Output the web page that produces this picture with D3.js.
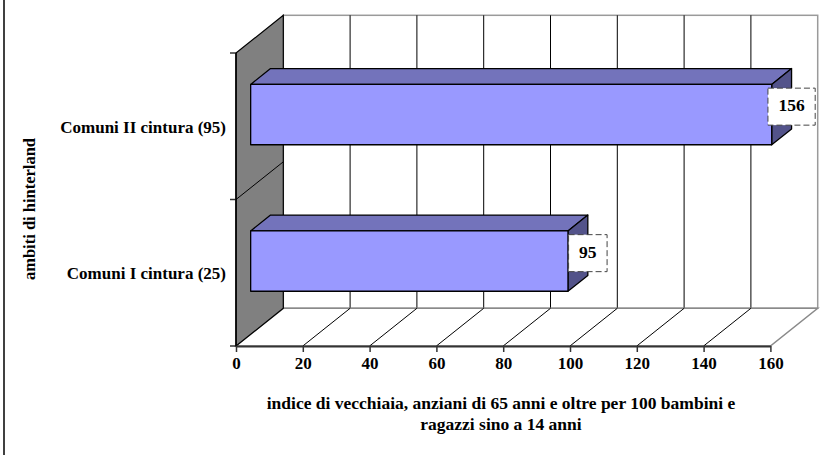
<!DOCTYPE html>
<html>
<head>
<meta charset="utf-8">
<script src="https://cdn.jsdelivr.net/npm/d3@7"></script>
<style>
  html, body { margin: 0; padding: 0; background: #fff; }
  svg { display: block; }
  text { font-family: "Liberation Serif", "Times New Roman", serif; font-weight: bold; fill: #000; }
</style>
</head>
<body>
<svg id="chart" width="825" height="455"></svg>
<script>
// Aging index by hinterland ring
const categories = ["Comuni II cintura (95)", "Comuni I cintura (25)"];
const values = [156, 95];
const xTicks = [0, 20, 40, 60, 80, 100, 120, 140, 160];
const xTitle = ["indice di vecchiaia, anziani di 65 anni e oltre per 100 bambini e", "ragazzi sino a 14 anni"];
const yTitle = "ambiti di hinterland";

const svg = d3.select("#chart");

// front plane of the 3D box and its depth offset
const front = { left: 236, right: 770.4, top: 53, bottom: 346 };
const depth = { dx: 47.3, dy: -37.7 };
const barFront = 0.31, barBack = 0.73; // bar slab position along the depth axis

const x = d3.scaleLinear().domain([0, 160]).range([front.left, front.right]);
const y = d3.scaleBand().domain(categories).range([front.top, front.bottom])
  .paddingInner(0.588).paddingOuter(0.294);

const proj = (px, py, f) => [px + f * depth.dx, py + f * depth.dy];
const poly = pts => "M" + pts.map(p => p.join(",")).join("L") + "Z";

// frame line on the left edge
svg.append("line").attr("x1", 4).attr("x2", 4).attr("y1", 0).attr("y2", 455)
  .attr("stroke", "#000").attr("stroke-width", 1.5);

// back wall
const bw0 = proj(front.left, front.top, 1), bw1 = proj(front.right, front.bottom, 1);
svg.append("rect").attr("x", bw0[0]).attr("y", bw0[1])
  .attr("width", bw1[0] - bw0[0]).attr("height", bw1[1] - bw0[1])
  .attr("fill", "#fff").attr("stroke", "#9a9a9a").attr("stroke-width", 1.5);

// back wall gridlines
svg.append("g").selectAll("line").data(xTicks.slice(1, -1)).join("line")
  .attr("x1", d => proj(x(d), 0, 1)[0]).attr("x2", d => proj(x(d), 0, 1)[0])
  .attr("y1", bw0[1]).attr("y2", bw1[1])
  .attr("stroke", "#000").attr("stroke-width", 1);

// floor
svg.append("path")
  .attr("d", poly([[front.left, front.bottom], [front.right, front.bottom],
    proj(front.right, front.bottom, 1), proj(front.left, front.bottom, 1)]))
  .attr("fill", "#fff").attr("stroke", "#8a8a8a").attr("stroke-width", 1.5);

svg.append("g").selectAll("line").data(xTicks.slice(1, -1)).join("line")
  .attr("x1", d => x(d)).attr("y1", front.bottom)
  .attr("x2", d => proj(x(d), front.bottom, 1)[0]).attr("y2", d => proj(x(d), front.bottom, 1)[1])
  .attr("stroke", "#000").attr("stroke-width", 1);

// left wall
svg.append("path")
  .attr("d", poly([[front.left, front.top], proj(front.left, front.top, 1),
    proj(front.left, front.bottom, 1), [front.left, front.bottom]]))
  .attr("fill", "#808080").attr("stroke", "#000").attr("stroke-width", 1.2);

// category boundaries on the left wall
const bounds = [front.top, (y(categories[0]) + y.bandwidth() + y(categories[1])) / 2, front.bottom];
svg.append("g").selectAll("line").data(bounds.slice(1, -1)).join("line")
  .attr("x1", front.left).attr("y1", d => d)
  .attr("x2", front.left + depth.dx).attr("y2", d => d + depth.dy)
  .attr("stroke", "#000").attr("stroke-width", 1);
svg.append("g").selectAll("line").data(bounds).join("line")
  .attr("x1", front.left - 6).attr("x2", front.left).attr("y1", d => d).attr("y2", d => d)
  .attr("stroke", "#333").attr("stroke-width", 1.5);
svg.append("line").attr("x1", front.left).attr("x2", front.left)
  .attr("y1", front.top).attr("y2", front.bottom)
  .attr("stroke", "#000").attr("stroke-width", 1.5);

// x axis along the floor front edge
const xAxis = svg.append("g").attr("transform", `translate(0,${front.bottom})`)
  .call(d3.axisBottom(x).tickValues(xTicks).tickSize(6).tickSizeOuter(0).tickPadding(5));
xAxis.select(".domain").attr("stroke", "#333").attr("stroke-width", 2);
xAxis.selectAll(".tick line").attr("stroke", "#333").attr("stroke-width", 1.5);
xAxis.selectAll(".tick text").attr("font-size", 17)
  .attr("font-family", "Liberation Serif").attr("font-weight", "bold").attr("fill", "#000");

// category labels
const yAxis = svg.append("g").attr("transform", `translate(${front.left},0)`)
  .call(d3.axisLeft(y).tickSize(0).tickPadding(10));
yAxis.select(".domain").remove();
yAxis.selectAll(".tick").attr("transform", d => `translate(0,${y(d) + y.bandwidth() / 2 + 1})`);
yAxis.selectAll(".tick text").attr("font-size", 17)
  .attr("font-family", "Liberation Serif").attr("font-weight", "bold").attr("fill", "#000");

// bars: top face, end face, front face
const bars = svg.append("g").selectAll("g").data(categories.map((c, i) => ({ c, v: values[i] }))).join("g");
bars.each(function (d) {
  const g = d3.select(this);
  const y0 = y(d.c), y1 = y(d.c) + y.bandwidth();
  const x0 = x(0), x1 = x(d.v);
  const ftl = proj(x0, y0, barFront), ftr = proj(x1, y0, barFront);
  const fbl = proj(x0, y1, barFront), fbr = proj(x1, y1, barFront);
  const btl = proj(x0, y0, barBack), btr = proj(x1, y0, barBack);
  const bbr = proj(x1, y1, barBack);
  g.append("path").attr("d", poly([ftl, btl, btr, ftr])).attr("fill", "#7373bb");
  g.append("path").attr("d", poly([ftr, btr, bbr, fbr])).attr("fill", "#53538a");
  g.append("path").attr("d", poly([ftl, ftr, fbr, fbl])).attr("fill", "#9999ff");
  g.selectAll("path").attr("stroke", "#000").attr("stroke-width", 1.3).attr("stroke-linejoin", "round");
});

// value labels in dashed boxes at the bar ends
bars.each(function (d) {
  const g = d3.select(this);
  const mid = (barFront + barBack) / 2;
  const cy = proj(0, y(d.c) + y.bandwidth() / 2, mid)[1];
  const cx = x(d.v) + barBack * depth.dx;
  const box = g.append("rect");
  const t = g.append("text").attr("x", cx).attr("y", cy + 4.5)
    .attr("text-anchor", "middle").attr("font-size", 17.5).text(d.v);
  const w = t.node().getComputedTextLength() + 21, h = 37;
  box.attr("x", cx - w / 2).attr("y", cy - h / 2).attr("width", w).attr("height", h)
    .attr("fill", "#fff").attr("stroke", "#444").attr("stroke-width", 1)
    .attr("stroke-dasharray", "6,3");
});

// axis titles
svg.append("text").attr("text-anchor", "middle").attr("font-size", 17.5)
  .selectAll("tspan").data(xTitle).join("tspan")
  .attr("x", 501).attr("y", (d, i) => 409 + i * 21).text(d => d);

svg.append("text").attr("text-anchor", "middle").attr("font-size", 16.5)
  .attr("transform", "translate(35,209) rotate(-90)").text(yTitle);
</script>
</body>
</html>
